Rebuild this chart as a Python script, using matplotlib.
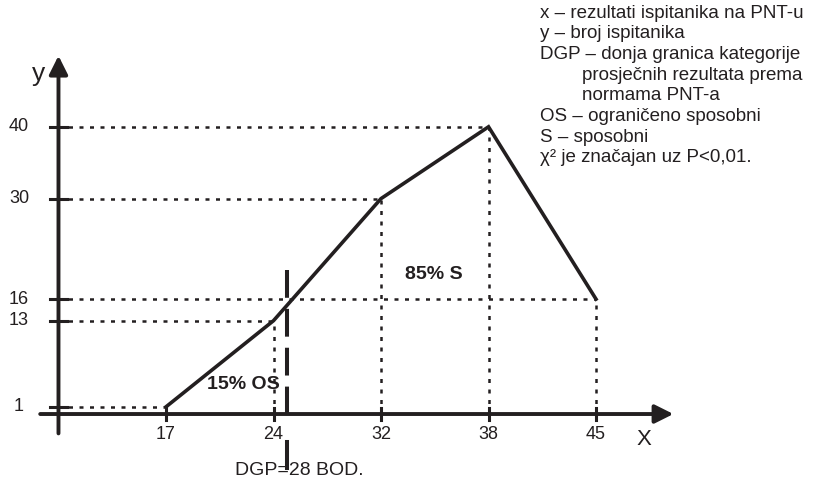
import matplotlib.pyplot as plt

plt.rcParams["font.family"] = ["Liberation Sans", "DejaVu Sans"]

# data
x_labels = ["17", "24", "32", "38", "45"]
y_values = [1, 13, 30, 40, 16]
y_ticks = [1, 13, 16, 30, 40]
dgp_pos = 1.13  # between 24 and 32, drawn as in the original

legend_lines = [
    "x – rezultati ispitanika na PNT-u",
    "y – broj ispitanika",
    "DGP – donja granica kategorije",
    "        prosječnih rezultata prema",
    "        normama PNT-a",
    "OS – ograničeno sposobni",
    "S – sposobni",
    "χ² je značajan uz P<0,01.",
]

INK = "#231f20"

fig = plt.figure(figsize=(8.19, 4.79), dpi=100)
ax = fig.add_axes([0, 0, 1, 1])
ax.set_xlim(-1.544, 6.074)
ax.set_ylim(-9.05, 57.66)
ax.axis("off")

xs = list(range(len(x_labels)))
y0_axis = -1.0  # x position of the y axis

# dotted guide lines
dot = dict(color=INK, lw=1.8, linestyle=(0, (1.6, 2.6)), zorder=1)
for x, y in zip(xs, y_values):
    if y == 16:
        continue
    ax.plot([y0_axis, x], [y, y], **dot)
    if y > 1:
        ax.plot([x, x], [0, y], **dot)
ax.plot([y0_axis, xs[-1]], [16, 16], **dot)
ax.plot([xs[-1], xs[-1]], [0, 16], **dot)

# the polygon
ax.plot(xs, y_values, color=INK, lw=2.6, solid_joinstyle="miter", zorder=3)

# axes with arrows
ax.annotate("", xy=(4.72, 0), xytext=(-1.17, 0),
            arrowprops=dict(arrowstyle="-|>", mutation_scale=28, lw=2.8, color=INK,
                            shrinkA=0, shrinkB=0))
ax.annotate("", xy=(y0_axis, 49.9), xytext=(y0_axis, -2.7),
            arrowprops=dict(arrowstyle="-|>", mutation_scale=28, lw=2.8, color=INK,
                            shrinkA=0, shrinkB=0))

# ticks and tick labels
for y in y_ticks:
    ax.plot([y0_axis - 0.075, y0_axis + 0.08], [y, y], color=INK, lw=2.2, zorder=4)
    ax.text(-1.367, y, str(y), ha="center", va="center", fontsize=13, color=INK)
for x, lab in zip(xs, x_labels):
    ax.plot([x, x], [-0.9, 0.9], color=INK, lw=2.2, zorder=4)
    ax.text(x, -2.8, lab, ha="center", va="center", fontsize=13, color=INK)

ax.text(y0_axis - 0.19, 47.4, "y", ha="center", va="center", fontsize=19, color=INK)
ax.text(4.45, -3.6, "X", ha="center", va="center", fontsize=16, color=INK)

# DGP dashed line, with a short piece below the axis
ax.plot([dgp_pos, dgp_pos], [20.0, 0.0], color=INK, lw=2.9,
        linestyle=(0, (6.9, 2.75)), zorder=2)
ax.plot([dgp_pos, dgp_pos], [-3.9, -7.5], color=INK, lw=2.9, zorder=2)
ax.text(dgp_pos + 0.11, -7.85, "DGP=28 BOD.", ha="center", va="center",
        fontsize=14, color=INK)

# region labels
ax.text(0.72, 4.1, "15% OS", ha="center", va="center", fontsize=14,
        fontweight="bold", color=INK)
ax.text(2.49, 19.4, "85% S", ha="center", va="center", fontsize=14,
        fontweight="bold", color=INK)

# explanation block
for i, line in enumerate(legend_lines):
    fig.text(540 / 819, 1 - (13 + 20.7 * i) / 479, line, ha="left", va="center",
             fontsize=13.5, color=INK)

fig.savefig("out.png", dpi=100)
